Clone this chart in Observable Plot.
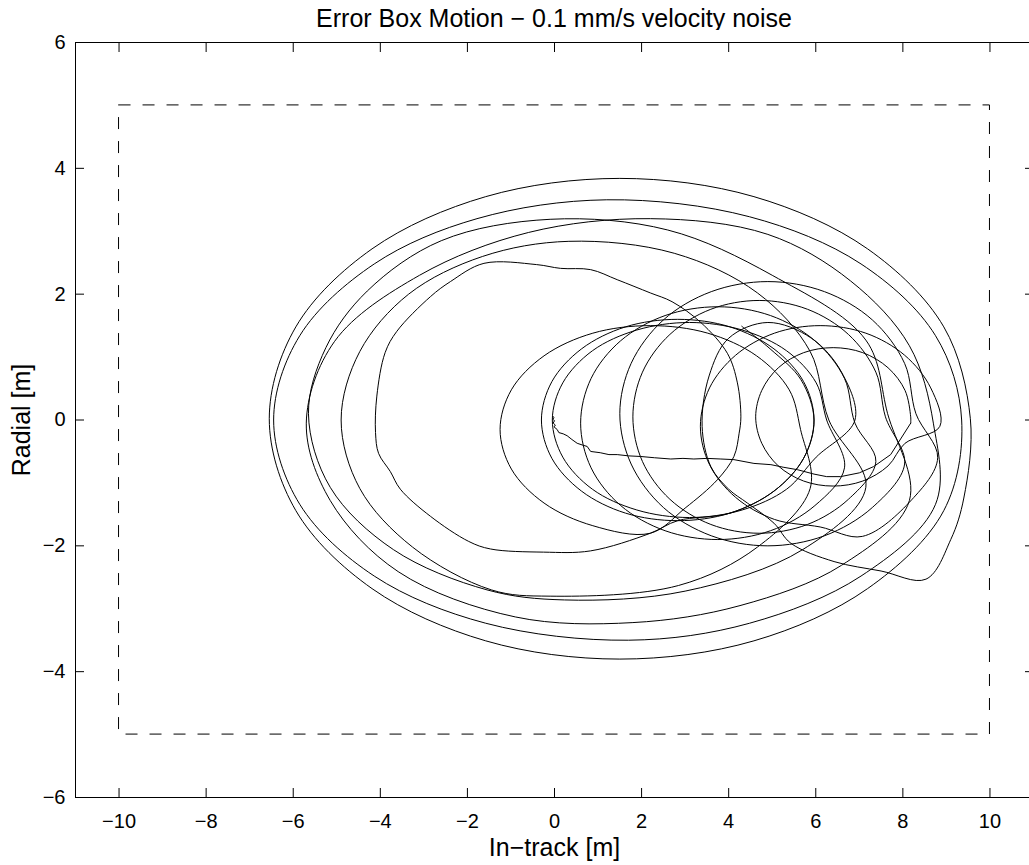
<!DOCTYPE html>
<html>
<head>
<meta charset="utf-8">
<script src="https://cdn.jsdelivr.net/npm/d3@7"></script>
<script src="https://cdn.jsdelivr.net/npm/@observablehq/plot@0.6"></script>
<style>
  html, body { margin: 0; padding: 0; background: #fff; overflow: hidden; width: 1029px; height: 865px; }
  #wrap { position: relative; width: 1029px; height: 865px; overflow: hidden; }
  #title { position: absolute; left: 75px; top: 0; width: 958px; height: 36px; line-height: 36px;
           text-align: center; font-family: "Liberation Sans", Arial, Helvetica, sans-serif; font-size: 25px; color: #000; white-space: nowrap; }
  #chart { position: absolute; left: 0; top: 30px; }
</style>
</head>
<body>
<div id="wrap">
  <div id="title">Error Box Motion − 0.1 mm/s velocity noise</div>
  <div id="chart"></div>
</div>
<script>
// ---- tick values and labels ----
const xTicks = [-10, -8, -6, -4, -2, 0, 2, 4, 6, 8, 10];
const yTicks = [-6, -4, -2, 0, 2, 4, 6];
const xLabel = "In−track [m]";
const yLabel = "Radial [m]";

// ---- error box limits ----
const boxX = [-10, 10];
const boxY = [-5, 5];

// ---- trajectory (in-track, radial) ----
const drift = [
  [-0.04,0.06],[-0.01,0.04],[-0.04,0.01],[0.00,-0.01],[-0.03,-0.05],[0.02,-0.08],[-0.01,-0.11],
  [0.06,-0.15],[0.10,-0.20],[0.20,-0.22],[0.29,-0.25],[0.40,-0.31],[0.52,-0.37],[0.65,-0.40],
  [0.75,-0.42],[0.83,-0.50],[1.05,-0.52],[1.25,-0.55],[1.44,-0.55],[1.70,-0.57],[1.98,-0.58],
  [2.30,-0.60],[2.67,-0.62],[2.95,-0.61],[3.20,-0.62],[3.50,-0.61],[3.82,-0.62],[4.12,-0.63],
  [4.58,-0.69],[4.97,-0.71],[5.25,-0.75],[5.58,-0.79],[5.96,-0.86],[6.25,-0.90],[6.57,-0.90],
  [7.00,-0.84],[7.33,-0.74],[7.72,-0.55],[8.18,-0.05]
];
const loopA = [[8.18,0.05],[8.05,0.47],[7.66,0.83],[7.08,1.07],[6.40,1.15],[5.72,1.07],[5.14,0.83],[4.76,0.47],
  [4.62,0.05],[4.76,-0.37],[5.14,-0.73],[5.72,-0.97],[6.40,-1.05],[7.08,-0.97],[7.66,-0.73],[8.05,-0.37]];
const loopB = [[8.85,-0.10],[8.64,0.51],[8.04,1.03],[7.15,1.38],[6.10,1.50],[5.05,1.38],[4.16,1.03],[3.56,0.51],
  [3.35,-0.10],[3.56,-0.71],[4.16,-1.23],[5.05,-1.58],[6.10,-1.70],[7.07,-1.85],[8.20,-1.27],[8.80,-0.60]];
const loopD = [[8.30,0.10],[8.04,0.90],[7.30,1.59],[6.20,2.04],[4.90,2.20],[3.60,2.04],[2.50,1.59],[1.76,0.90],
  [1.50,0.10],[1.76,-0.70],[2.50,-1.39],[3.60,-1.84],[4.90,-2.00],[6.20,-1.84],[7.30,-1.39],[8.04,-0.70]];
const loopC = [[7.60,0.05],[7.38,0.76],[6.75,1.36],[5.81,1.76],[4.70,1.90],[3.59,1.76],[2.65,1.36],[2.02,0.76],
  [1.80,0.05],[2.02,-0.66],[2.65,-1.26],[3.59,-1.66],[4.70,-1.80],[5.81,-1.66],[6.75,-1.26],[7.38,-0.66]];
const loopE = [[6.90,-0.05],[6.66,0.66],[5.98,1.26],[4.96,1.66],[3.75,1.80],[2.54,1.66],[1.52,1.26],[0.84,0.66],
  [0.60,-0.05],[0.84,-0.76],[1.52,-1.36],[2.54,-1.76],[3.75,-1.90],[4.96,-1.76],[5.98,-1.36],[6.66,-0.76]];
const loopF = [[6.25,0.00],[6.01,0.59],[5.33,1.10],[4.31,1.43],[3.10,1.55],[1.89,1.43],[0.87,1.10],[0.19,0.59],
  [-0.05,0.00],[0.19,-0.59],[0.87,-1.10],[1.89,-1.43],[3.10,-1.55],[4.31,-1.43],[5.33,-1.10],[6.01,-0.59]];
const loopI = [[6.90,0.00],[6.60,0.75],[5.90,1.30],[4.90,1.55],[4.00,1.30],[3.55,0.70],[3.39,-0.10],[3.59,-0.74],
  [4.00,-1.10],[4.43,-1.32],[5.04,-1.64],[5.43,-1.96],[6.42,-2.25],[7.50,-2.40],[8.53,-2.53],[9.10,-1.90],[9.40,-1.24]];
const loopP = [[9.55,0.02],[8.94,1.48],[7.19,2.72],[4.58,3.55],[1.50,3.84],[-1.58,3.55],[-4.19,2.72],[-5.94,1.48],
  [-6.55,0.02],[-5.94,-1.44],[-4.19,-2.68],[-1.58,-3.51],[1.50,-3.80],[4.58,-3.51],[7.19,-2.68],[8.94,-1.44]];
const loopO = [[9.35,0.00],[8.75,1.34],[7.04,2.48],[4.48,3.23],[1.20,3.50],[-1.78,3.20],[-4.14,2.48],[-5.85,1.34],
  [-6.45,0.00],[-5.85,-1.34],[-4.14,-2.48],[-1.58,-3.23],[1.70,-3.50],[4.48,-3.23],[7.04,-2.48],[8.75,-1.34]];
const loopN = [[8.70,-0.05],[8.15,1.18],[6.80,2.21],[4.90,2.95],[2.20,3.20],[-0.60,2.98],[-3.10,2.30],[-5.05,1.25],
  [-5.70,-0.05],[-5.15,-1.28],[-3.59,-2.41],[-0.90,-3.13],[1.80,-3.22],[4.26,-2.95],[6.59,-2.31],[8.15,-1.28]];
const loopM = [[7.65,0.10],[7.15,1.27],[5.00,2.30],[2.60,3.02],[-0.10,3.19],[-2.60,2.85],[-4.30,2.05],[-5.25,1.15],
  [-5.65,0.10],[-5.15,-1.07],[-3.70,-2.06],[-1.55,-2.70],[0.23,-2.86],[3.00,-2.72],[5.70,-2.06],[7.15,-1.07]];
const loopK = [[6.30,0.00],[5.87,1.09],[4.66,2.02],[2.75,2.65],[0.33,2.84],[-1.65,2.60],[-3.35,2.00],[-4.47,1.09],
  [-4.90,0.00],[-4.47,-1.09],[-3.26,-2.02],[-1.45,-2.70],[-0.10,-2.80],[2.85,-2.63],[4.66,-2.02],[5.87,-1.09]];
const loopH = [[5.65,-0.15],[5.39,0.48],[4.64,1.02],[3.52,1.38],[2.20,1.50],[0.88,1.38],[-0.24,1.02],[-0.99,0.48],
  [-1.25,-0.15],[-0.99,-0.78],[-0.24,-1.32],[0.88,-1.68],[2.20,-1.80]];
const loopJ = [[3.00,-1.40],[3.74,-0.95],[4.12,-0.58],[4.24,-0.21],[4.28,0.05],[4.20,0.59],[3.97,1.06],[3.36,1.55],
  [2.70,1.88],[2.20,2.02],[1.44,2.23],[0.83,2.39],[0.14,2.41],[-0.41,2.47],[-1.62,2.49],[-2.39,2.20],[-2.85,1.96],
  [-3.62,1.41],[-3.89,1.07],[-4.08,0.38],[-4.11,-0.20],[-4.04,-0.53],[-3.77,-0.82],[-3.54,-1.10],[-2.85,-1.53],
  [-1.97,-1.93],[-1.47,-2.05],[-0.25,-2.10],[0.83,-2.08],[2.20,-1.80]];
const loopG = [[2.83,-1.60],[4.03,-1.48],[5.04,-1.13],[5.72,-0.61],[5.96,0.00],[5.72,0.61],[5.04,1.13],[4.03,1.48],
  [2.83,1.60],[1.63,1.48],[0.62,1.13],[-0.06,0.61],[-0.30,0.00],[-0.06,-0.61],[0.62,-1.13],[1.63,-1.48]];
const finalArc = [[2.83,-1.60],[4.03,-1.48],[5.04,-1.13],[5.72,-0.61],[5.96,0.00],[5.66,0.64],[4.97,1.12],[4.30,1.49]];

// ---- build tables ----
const loopOrder = [loopA, loopB, loopD, loopC, loopE, loopF, loopI, loopP, loopO, loopN, loopM, loopK, loopH, loopJ, loopG, finalArc];
const driftData = drift.map(([x, y]) => ({x, y}));
const loopData = [drift[drift.length - 1], ...loopOrder.flat()].map(([x, y]) => ({x, y}));
const boxData = [{x1: boxX[0], x2: boxX[1], y1: boxY[0], y2: boxY[1]}];
const fmt = d => d < 0 ? "\u2212" + Math.abs(d) : String(d);
const FS = 20;   // tick labels
const LS = 25;   // axis titles

const chart = Plot.plot({
  width: 1029,
  height: 835,
  marginLeft: 75,
  marginRight: -4,
  marginTop: 12,
  marginBottom: 68,
  x: {domain: [-11, 11]},
  y: {domain: [-6, 6]},
  style: {fontFamily: "'Liberation Sans', Arial, Helvetica, sans-serif", fontSize: FS + "px", color: "#000", background: "#fff", overflow: "hidden"},
  marks: [
    Plot.rect(boxData, {x1: "x1", x2: "x2", y1: "y1", y2: "y2", fill: "none", stroke: "#000", strokeWidth: 1, strokeDasharray: "12,12"}),
    Plot.line(driftData, {x: "x", y: "y", stroke: "#000", strokeWidth: 1}),
    Plot.line(loopData, {x: "x", y: "y", stroke: "#000", strokeWidth: 1, curve: "catmull-rom"}),
    Plot.frame({stroke: "#000", strokeWidth: 1}),
    // tick marks, pointing inwards on all four sides
    Plot.axisX(xTicks, {anchor: "bottom", tickSize: -9, tickFormat: () => "", label: null}),
    Plot.axisX(xTicks, {anchor: "top", tickSize: -9, tickFormat: () => "", label: null}),
    Plot.axisY(yTicks, {anchor: "left", tickSize: -9, tickFormat: () => "", label: null}),
    Plot.axisY(yTicks, {anchor: "right", tickSize: -9, tickFormat: () => "", label: null}),
    // tick labels
    Plot.axisX(xTicks, {anchor: "bottom", tickSize: 0, tickPadding: 16, tickFormat: fmt, label: null, fontSize: FS}),
    Plot.axisY(yTicks, {anchor: "left", tickSize: 0, tickPadding: 10, tickFormat: fmt, label: null, fontSize: FS}),
    // axis titles
    Plot.text([xLabel], {frameAnchor: "bottom", dy: 50, lineAnchor: "middle", textAnchor: "middle", fontSize: LS}),
    Plot.text([yLabel], {frameAnchor: "left", dx: -54, rotate: -90, lineAnchor: "middle", textAnchor: "middle", fontSize: LS})
  ]
});
document.getElementById("chart").appendChild(chart);
</script>
</body>
</html>
